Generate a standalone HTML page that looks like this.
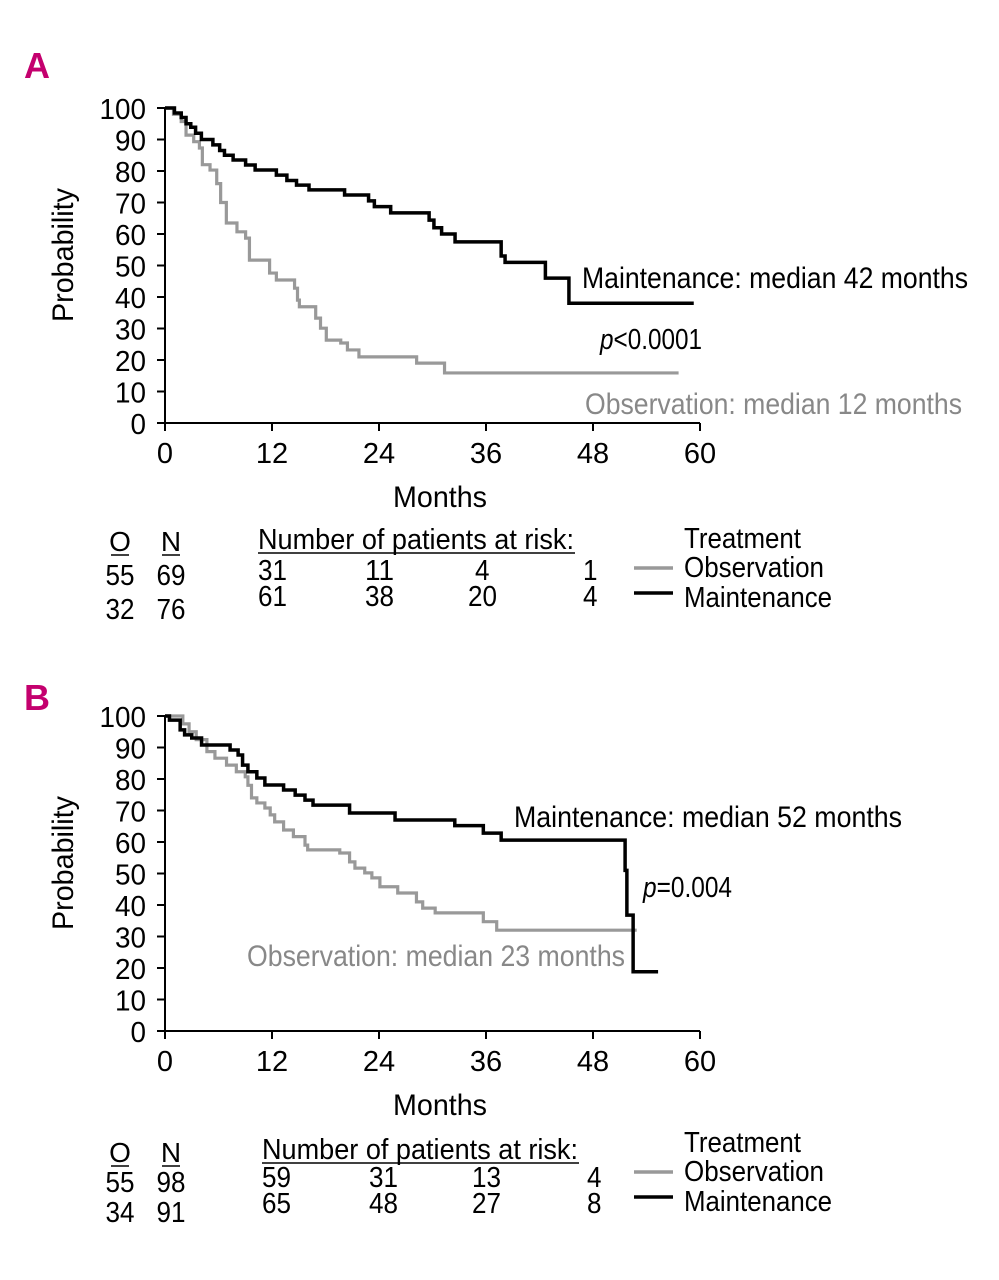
<!DOCTYPE html>
<html><head><meta charset="utf-8">
<style>
html,body{margin:0;padding:0;background:#fff;}
svg{display:block;font-family:"Liberation Sans Narrow","Liberation Sans",sans-serif;}
</style></head>
<body>
<svg id="fig" width="999" height="1280" viewBox="0 0 999 1280"></svg>
<script>
// Panel A data (step points: month of drop, new probability)
const xTicks = [0,12,24,36,48,60];
const yTicks = [0,10,20,30,40,50,60,70,80,90,100];
const aMaintSteps = [[1.06,98.4],[1.82,97],[2.36,95],[2.89,93.9],[3.43,92],[4.08,90],[5.37,88.3],[6.13,86.5],[6.67,85],[7.64,83.5],[9.04,81.9],[10.11,80.3],[12.49,78.7],[13.67,77],[14.75,75.5],[16.15,74],[20.14,72.4],[22.83,70.5],[23.48,68.7],[25.31,66.7],[29.62,64.4],[30.16,62],[31.02,60],[32.53,57.5],[37.7,53],[38.14,51],[42.66,46],[45.3,38]];
const aMaintEnd = 59.3;
const aObsSteps = [[0.95,98],[1.82,95.7],[2.36,91.4],[3.22,89.3],[3.86,87.3],[4.19,82],[5.05,80.3],[5.8,76],[6.24,70],[6.88,63.5],[8.07,60.7],[9.04,58.7],[9.47,51.7],[11.73,47.6],[12.49,45.4],[14.53,42.8],[14.86,39],[15.07,36.9],[16.9,33.3],[17.44,30.1],[18.09,26.3],[19.71,25.4],[20.46,23.2],[21.75,21],[28.22,19],[31.35,15.9]];
const aObsEnd = 57.6;
// Panel B data
const bMaintSteps = [[0.5,98.7],[1.7,95.6],[2.2,94],[3,93],[4.1,90.8],[7.3,89.2],[8.2,87.6],[8.7,84.4],[9.3,82.3],[10.3,80.3],[11.2,78.1],[13.3,76.5],[14.6,74.9],[15.7,73.3],[16.6,71.7],[20.7,69.2],[25.8,67],[32.5,65.2],[35.7,62.8],[37.7,60.6],[51.6,51],[51.8,36.8],[52.5,18.8]];
const bMaintEnd = 55.3;
const bObsSteps = [[2,97.5],[2.7,95],[3.5,92.5],[4.7,88.7],[5.6,86.6],[6.9,84.4],[8,82.3],[9,80.7],[9.3,78],[9.7,74],[10.3,72.4],[11.2,70.8],[11.8,68.6],[12.3,66.4],[13.3,63.8],[14.4,61.7],[15.7,59],[16,57.5],[19.6,56.5],[20.7,53.7],[21.3,51.7],[22.4,50.2],[23.2,48.6],[24.1,45.8],[26.1,43.8],[28.2,41],[28.9,39],[30.3,37.5],[35.7,34.7],[37.2,32]];
const bObsEnd = 52.9;
const aRiskObs = ["31","11","4","1"];
const aRiskMaint = ["61","38","20","4"];
const bRiskObs = ["59","31","13","4"];
const bRiskMaint = ["65","48","27","8"];
const aON = [["55","69"],["32","76"]];
const bON = [["55","98"],["34","91"]];

const NS="http://www.w3.org/2000/svg";
const svg=document.getElementById('fig');
function el(tag,attrs,parent){const e=document.createElementNS(NS,tag);for(const k in attrs)e.setAttribute(k,attrs[k]);(parent||svg).appendChild(e);return e;}
function txt(s,x,y,size,opts,parent){opts=opts||{};const t=el('text',{x:x,y:y,'font-size':size,fill:opts.fill||'#000','text-anchor':opts.anchor||'start'},parent);if(opts.bold)t.setAttribute('font-weight','bold');if(opts.italic)t.setAttribute('font-style','italic');if(opts.len){t.setAttribute('textLength',opts.len);t.setAttribute('lengthAdjust','spacingAndGlyphs');}t.textContent=s;return t;}

function panel(letter,oy,maintSteps,maintEnd,obsSteps,obsEnd,labels,riskObs,riskMaint,on,tableDx,letterY){
  const g=el('g',{});
  
  
  const x0=165,x1=700,yTop=108+oy,yBot=423+oy;
  const X=m=>x0+m*(x1-x0)/60;
  const Y=p=>yBot-p*(yBot-yTop)/100;
  const L=txt(letter,37,letterY,36,{fill:'#c4006e',bold:true,anchor:'middle'},g);
  
  
  const ax=el('path',{d:`M${x0},${yTop} V${yBot} H${x1}`,stroke:'#000','stroke-width':2,fill:'none'},g);
  
  
  yTicks.forEach(v=>{
    el('line',{x1:x0-8,x2:x0,y1:Y(v),y2:Y(v),stroke:'#000','stroke-width':2},g);
    const t=txt(String(v),146,Y(v)+11,29,{anchor:'end',len:String(v).length*15.5},g);
    
    
  });
  xTicks.forEach(v=>{
    el('line',{x1:X(v),x2:X(v),y1:yBot,y2:yBot+8,stroke:'#000','stroke-width':2},g);
    const t=txt(String(v),X(v),yBot+40,29,{anchor:'middle'},g);
    
    
  });
  const xt=txt('Months',440,yBot+84,30,{anchor:'middle',len:94},g);
  
  
  const yt=txt('Probability',0,0,30,{anchor:'middle',len:134},g);
  yt.setAttribute('transform',`translate(73,${255+oy}) rotate(-90)`);
  
  
  function curve(steps,end,color,w,name){
    let d=`M${X(0)},${Y(100)}`;
    steps.forEach(s=>{d+=` H${X(s[0])} V${Y(s[1])}`;});
    d+=` H${X(end)}`;
    const p=el('path',{d:d,stroke:color,'stroke-width':w,fill:'none'},g);
    
    
  }
  curve(obsSteps,obsEnd,'#999',3.2,'observation-curve');
  curve(maintSteps,maintEnd,'#000',3.5,'maintenance-curve');
  labels.forEach(l=>{
    const t=txt(l.s,l.x,l.y+oy,30,{fill:l.fill,anchor:'start',len:l.len},g);
    
    
  });
  const isB=letter==='B';
  const hy0=isB?1162:551;
  const o=txt('O',120,hy0,28,{anchor:'middle'},g);
  
  
  const n=txt('N',171,hy0,28,{anchor:'middle'},g);
  
  
  el('line',{x1:111,x2:129,y1:hy0+4,y2:hy0+4,stroke:'#000','stroke-width':1.5},g);
  el('line',{x1:162,x2:180,y1:hy0+4,y2:hy0+4,stroke:'#000','stroke-width':1.5},g);
  on.forEach((r,i)=>{
    const yy=isB?1192+i*30:585+i*34;
    const a=txt(r[0],120,yy,29,{anchor:'middle',len:29},g);
    
    
    const b=txt(r[1],171,yy,29,{anchor:'middle',len:29},g);
    
    
  });
  const hx=258+tableDx, hy=isB?1159:549;
  const h=txt('Number of patients at risk:',hx,hy,29,{len:316},g);
  
  
  el('line',{x1:hx,x2:hx+317,y1:hy+4,y2:hy+4,stroke:'#000','stroke-width':1.5},g);
  const cols=[0,107,210,325];
  const r1=isB?1187:580, r2=isB?1213:606;
  riskObs.forEach((v,i)=>{
    const t=txt(v,hx+cols[i]+(v.length==1&&i<3?7:0),r1,29,{len:v.length*14.5},g);
    
    
  });
  riskMaint.forEach((v,i)=>{
    const t=txt(v,hx+cols[i]+(v.length==1&&i<3?7:0),r2,29,{len:v.length*14.5},g);
    
    
  });
  const lb=isB?1152:548;
  const lt=txt('Treatment',684,lb,29,{len:117},g);
  
  
  el('line',{x1:634,x2:673,y1:lb+20,y2:lb+20,stroke:'#999','stroke-width':3.5},g);
  const lo=txt('Observation',684,lb+29,29,{len:140},g);
  
  
  el('line',{x1:634,x2:673,y1:lb+45,y2:lb+45,stroke:'#000','stroke-width':3.5},g);
  const lm=txt('Maintenance',684,lb+59,29,{len:148},g);
  
  
}

panel('A',0,aMaintSteps,aMaintEnd,aObsSteps,aObsEnd,[
  {s:'Maintenance: median 42 months',x:582,y:288,len:386,fill:'#000',name:'maintenance-median-label'},
  {s:'Observation: median 12 months',x:585,y:414,len:377,fill:'#888',name:'observation-median-label'}
],aRiskObs,aRiskMaint,aON,0,78);
panel('B',608,bMaintSteps,bMaintEnd,bObsSteps,bObsEnd,[
  {s:'Maintenance: median 52 months',x:514,y:219,len:388,fill:'#000',name:'maintenance-median-label'},
  {s:'Observation: median 23 months',x:247,y:358,len:378,fill:'#888',name:'observation-median-label'}
],bRiskObs,bRiskMaint,bON,4,710);

function pval(rest,x,y,len,name){
  const t=el('text',{x:x,y:y,'font-size':29,fill:'#000',textLength:len,lengthAdjust:'spacingAndGlyphs'});
  
  
  const a=el('tspan',{'font-style':'italic'},t);a.textContent='p';
  const b=el('tspan',{},t);b.textContent=rest;
}
pval('<0.0001',600,349,102,'p-value-a');
pval('=0.004',643,897,89,'p-value-b');
</script>
</body></html>
